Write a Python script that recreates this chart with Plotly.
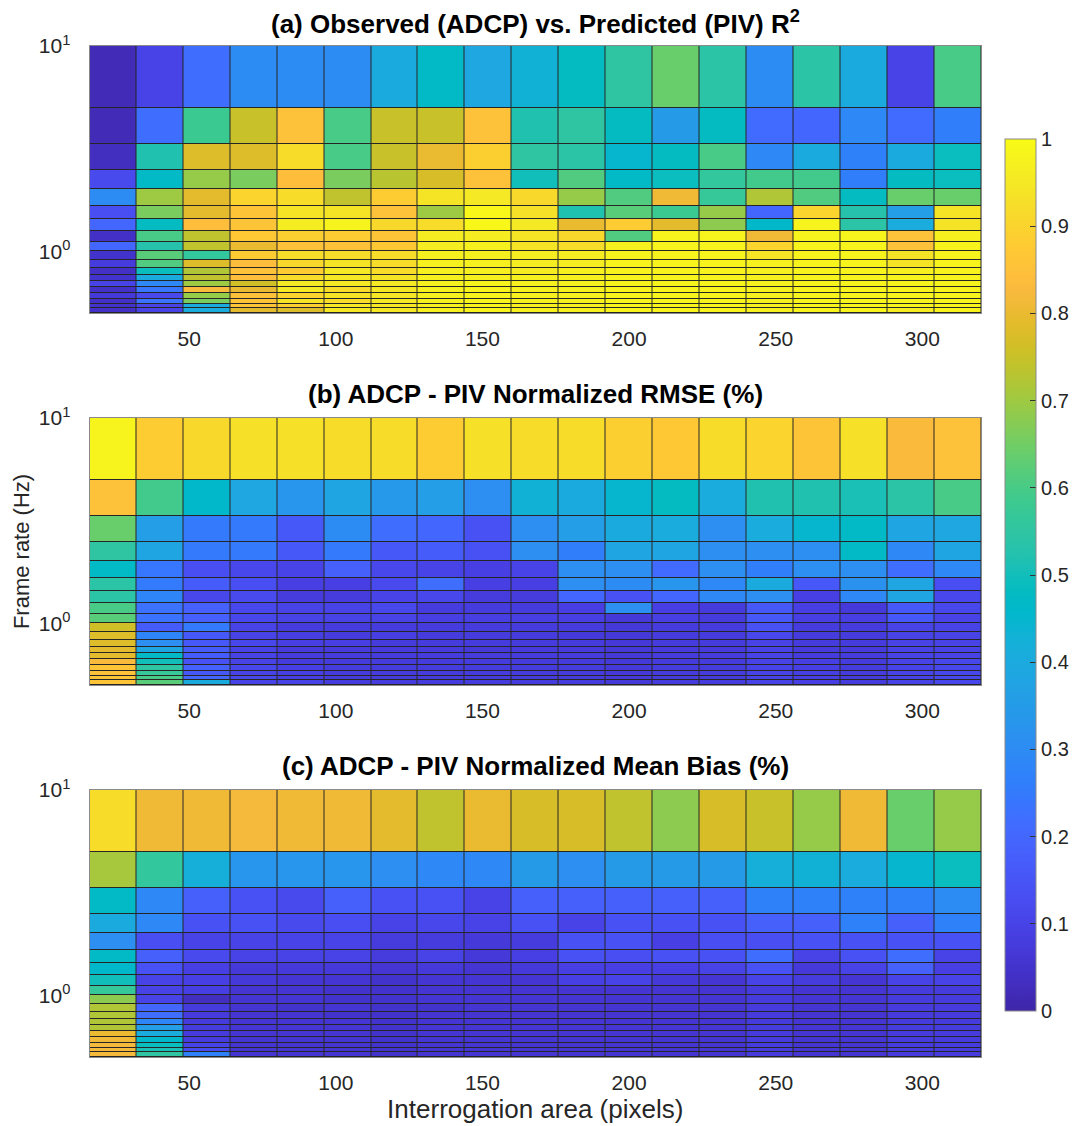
import plotly.graph_objects as go

# ---------------- data ----------------
# pcolor vertices: interrogation area (pixels) and frame rate (Hz)
interrogation_edges = [16, 32, 48, 64, 80, 96, 112, 128, 144, 160, 176, 192, 208, 224, 240, 256, 272, 288, 304, 320]
frame_rate_edges = [10.0, 5.0, 3.333, 2.5, 2.0, 1.667, 1.429, 1.25, 1.111, 1.0,
                    0.909, 0.833, 0.769, 0.714, 0.667, 0.625, 0.588, 0.556, 0.526, 0.5]

# rows listed from top (highest frame rate) to bottom
r2_values = [
    [0.02, 0.10, 0.22, 0.30, 0.30, 0.30, 0.40, 0.47, 0.39, 0.43, 0.48, 0.55, 0.64, 0.54, 0.30, 0.54, 0.40, 0.10, 0.60],
    [0.02, 0.22, 0.58, 0.75, 0.85, 0.60, 0.75, 0.75, 0.85, 0.52, 0.55, 0.48, 0.35, 0.48, 0.21, 0.20, 0.29, 0.21, 0.26],
    [0.03, 0.52, 0.78, 0.78, 0.92, 0.60, 0.75, 0.80, 0.89, 0.55, 0.54, 0.45, 0.48, 0.60, 0.29, 0.40, 0.27, 0.40, 0.49],
    [0.12, 0.47, 0.69, 0.66, 0.84, 0.66, 0.73, 0.77, 0.85, 0.50, 0.61, 0.47, 0.49, 0.56, 0.59, 0.59, 0.26, 0.48, 0.49],
    [0.30, 0.70, 0.79, 0.90, 0.92, 0.74, 0.88, 0.94, 0.95, 0.91, 0.69, 0.61, 0.81, 0.57, 0.72, 0.61, 0.48, 0.64, 0.64],
    [0.13, 0.66, 0.79, 0.86, 0.94, 0.94, 0.85, 0.70, 0.99, 0.93, 0.52, 0.62, 0.58, 0.69, 0.20, 0.90, 0.53, 0.36, 0.94],
    [0.20, 0.48, 0.84, 0.86, 0.96, 0.98, 0.91, 0.92, 0.99, 0.95, 0.80, 0.88, 0.79, 0.68, 0.46, 0.98, 0.54, 0.41, 0.94],
    [0.04, 0.60, 0.74, 0.87, 0.89, 0.88, 0.86, 0.96, 0.96, 0.94, 0.91, 0.61, 0.98, 0.98, 0.81, 0.98, 0.98, 0.85, 0.97],
    [0.20, 0.53, 0.74, 0.80, 0.85, 0.85, 0.87, 0.96, 0.97, 0.94, 0.92, 0.97, 0.98, 0.98, 0.90, 0.98, 0.98, 0.85, 0.98],
    [0.05, 0.62, 0.56, 0.88, 0.92, 0.92, 0.92, 0.97, 0.97, 0.96, 0.96, 0.98, 0.98, 0.98, 0.94, 0.98, 0.98, 0.94, 0.98],
    [0.08, 0.61, 0.78, 0.84, 0.91, 0.94, 0.92, 0.97, 0.97, 0.96, 0.96, 0.98, 0.98, 0.98, 0.97, 0.98, 0.98, 0.94, 0.98],
    [0.04, 0.49, 0.72, 0.85, 0.88, 0.95, 0.92, 0.97, 0.97, 0.96, 0.97, 0.98, 0.98, 0.98, 0.97, 0.98, 0.98, 0.97, 0.98],
    [0.05, 0.40, 0.74, 0.84, 0.92, 0.95, 0.94, 0.97, 0.97, 0.97, 0.97, 0.98, 0.98, 0.98, 0.97, 0.98, 0.98, 0.98, 0.98],
    [0.10, 0.29, 0.70, 0.76, 0.95, 0.95, 0.95, 0.97, 0.98, 0.97, 0.97, 0.98, 0.98, 0.98, 0.97, 0.98, 0.98, 0.98, 0.98],
    [0.04, 0.24, 0.83, 0.80, 0.95, 0.92, 0.95, 0.97, 0.98, 0.97, 0.97, 0.98, 0.98, 0.98, 0.97, 0.98, 0.98, 0.98, 0.98],
    [0.07, 0.12, 0.69, 0.85, 0.90, 0.94, 0.95, 0.97, 0.98, 0.97, 0.97, 0.98, 0.98, 0.98, 0.97, 0.98, 0.98, 0.98, 0.98],
    [0.04, 0.23, 0.66, 0.86, 0.94, 0.92, 0.95, 0.97, 0.98, 0.97, 0.97, 0.98, 0.98, 0.98, 0.97, 0.98, 0.98, 0.98, 0.98],
    [0.05, 0.10, 0.41, 0.86, 0.89, 0.95, 0.95, 0.97, 0.98, 0.97, 0.97, 0.98, 0.98, 0.98, 0.97, 0.98, 0.98, 0.98, 0.98],
    [0.04, 0.10, 0.41, 0.79, 0.78, 0.95, 0.95, 0.97, 0.98, 0.97, 0.97, 0.98, 0.98, 0.98, 0.97, 0.98, 0.98, 0.96, 0.98],
]

rmse_values = [
    [0.98, 0.88, 0.91, 0.93, 0.93, 0.92, 0.92, 0.88, 0.93, 0.92, 0.92, 0.89, 0.87, 0.92, 0.90, 0.86, 0.93, 0.83, 0.85],
    [0.85, 0.59, 0.46, 0.39, 0.33, 0.38, 0.34, 0.36, 0.31, 0.43, 0.40, 0.45, 0.48, 0.41, 0.52, 0.52, 0.51, 0.54, 0.60],
    [0.64, 0.36, 0.25, 0.25, 0.16, 0.30, 0.22, 0.20, 0.14, 0.31, 0.36, 0.40, 0.41, 0.31, 0.41, 0.45, 0.47, 0.38, 0.39],
    [0.55, 0.38, 0.25, 0.25, 0.16, 0.25, 0.16, 0.17, 0.14, 0.31, 0.26, 0.38, 0.38, 0.31, 0.31, 0.31, 0.47, 0.29, 0.38],
    [0.47, 0.24, 0.13, 0.11, 0.10, 0.18, 0.11, 0.10, 0.09, 0.10, 0.31, 0.31, 0.21, 0.31, 0.26, 0.31, 0.31, 0.22, 0.29],
    [0.54, 0.25, 0.17, 0.13, 0.09, 0.09, 0.12, 0.22, 0.09, 0.09, 0.31, 0.30, 0.33, 0.29, 0.40, 0.16, 0.32, 0.38, 0.13],
    [0.54, 0.28, 0.11, 0.12, 0.08, 0.08, 0.10, 0.11, 0.08, 0.08, 0.20, 0.14, 0.20, 0.29, 0.31, 0.09, 0.29, 0.38, 0.11],
    [0.60, 0.23, 0.18, 0.11, 0.10, 0.10, 0.11, 0.08, 0.08, 0.08, 0.09, 0.31, 0.09, 0.08, 0.16, 0.09, 0.07, 0.16, 0.11],
    [0.62, 0.23, 0.18, 0.11, 0.10, 0.10, 0.10, 0.09, 0.09, 0.09, 0.09, 0.07, 0.09, 0.08, 0.16, 0.09, 0.09, 0.16, 0.10],
    [0.76, 0.17, 0.25, 0.10, 0.08, 0.08, 0.08, 0.08, 0.08, 0.08, 0.08, 0.07, 0.08, 0.08, 0.14, 0.08, 0.08, 0.10, 0.10],
    [0.78, 0.28, 0.16, 0.10, 0.09, 0.08, 0.09, 0.08, 0.08, 0.08, 0.07, 0.07, 0.08, 0.08, 0.11, 0.08, 0.08, 0.10, 0.10],
    [0.78, 0.31, 0.16, 0.11, 0.09, 0.09, 0.08, 0.08, 0.08, 0.08, 0.08, 0.07, 0.08, 0.08, 0.10, 0.08, 0.08, 0.10, 0.10],
    [0.79, 0.38, 0.17, 0.10, 0.08, 0.08, 0.08, 0.08, 0.07, 0.08, 0.08, 0.07, 0.08, 0.08, 0.10, 0.08, 0.08, 0.10, 0.10],
    [0.79, 0.47, 0.17, 0.10, 0.08, 0.08, 0.08, 0.08, 0.08, 0.08, 0.08, 0.07, 0.08, 0.08, 0.10, 0.08, 0.08, 0.10, 0.10],
    [0.83, 0.50, 0.14, 0.10, 0.08, 0.08, 0.08, 0.08, 0.08, 0.08, 0.08, 0.07, 0.08, 0.08, 0.10, 0.09, 0.08, 0.10, 0.11],
    [0.86, 0.55, 0.18, 0.11, 0.09, 0.08, 0.08, 0.08, 0.08, 0.08, 0.08, 0.07, 0.08, 0.08, 0.10, 0.09, 0.08, 0.10, 0.11],
    [0.85, 0.57, 0.16, 0.10, 0.09, 0.08, 0.08, 0.08, 0.08, 0.08, 0.08, 0.07, 0.08, 0.08, 0.10, 0.09, 0.08, 0.10, 0.11],
    [0.86, 0.60, 0.20, 0.11, 0.09, 0.08, 0.08, 0.08, 0.08, 0.08, 0.08, 0.07, 0.08, 0.08, 0.10, 0.09, 0.08, 0.10, 0.11],
    [0.86, 0.62, 0.40, 0.10, 0.10, 0.08, 0.08, 0.08, 0.08, 0.08, 0.08, 0.07, 0.08, 0.08, 0.10, 0.09, 0.08, 0.10, 0.11],
]

bias_values = [
    [0.92, 0.81, 0.81, 0.82, 0.81, 0.81, 0.79, 0.74, 0.80, 0.77, 0.77, 0.74, 0.68, 0.77, 0.75, 0.69, 0.81, 0.64, 0.69],
    [0.71, 0.56, 0.42, 0.33, 0.33, 0.33, 0.31, 0.29, 0.29, 0.35, 0.31, 0.35, 0.35, 0.35, 0.42, 0.43, 0.41, 0.45, 0.49],
    [0.47, 0.29, 0.18, 0.14, 0.12, 0.18, 0.14, 0.14, 0.10, 0.18, 0.18, 0.18, 0.18, 0.18, 0.27, 0.27, 0.27, 0.27, 0.30],
    [0.40, 0.29, 0.14, 0.14, 0.12, 0.13, 0.10, 0.11, 0.10, 0.14, 0.10, 0.14, 0.14, 0.14, 0.18, 0.18, 0.27, 0.18, 0.27],
    [0.31, 0.13, 0.10, 0.10, 0.10, 0.10, 0.08, 0.08, 0.07, 0.08, 0.14, 0.14, 0.09, 0.13, 0.13, 0.14, 0.14, 0.14, 0.14],
    [0.47, 0.18, 0.12, 0.10, 0.10, 0.10, 0.08, 0.10, 0.07, 0.09, 0.14, 0.13, 0.14, 0.14, 0.22, 0.10, 0.14, 0.22, 0.10],
    [0.46, 0.14, 0.09, 0.07, 0.07, 0.07, 0.06, 0.07, 0.06, 0.07, 0.09, 0.09, 0.09, 0.10, 0.14, 0.07, 0.10, 0.18, 0.09],
    [0.50, 0.10, 0.09, 0.07, 0.06, 0.06, 0.05, 0.06, 0.06, 0.06, 0.09, 0.10, 0.07, 0.06, 0.10, 0.08, 0.06, 0.10, 0.10],
    [0.57, 0.10, 0.09, 0.06, 0.06, 0.05, 0.05, 0.06, 0.06, 0.06, 0.06, 0.06, 0.06, 0.06, 0.08, 0.06, 0.06, 0.08, 0.08],
    [0.68, 0.10, 0.03, 0.06, 0.06, 0.05, 0.05, 0.06, 0.06, 0.06, 0.06, 0.06, 0.06, 0.06, 0.08, 0.06, 0.06, 0.08, 0.08],
    [0.72, 0.20, 0.08, 0.06, 0.05, 0.06, 0.05, 0.05, 0.06, 0.06, 0.06, 0.06, 0.06, 0.06, 0.08, 0.06, 0.06, 0.08, 0.08],
    [0.72, 0.22, 0.08, 0.06, 0.06, 0.05, 0.05, 0.06, 0.06, 0.06, 0.06, 0.06, 0.06, 0.06, 0.08, 0.06, 0.06, 0.08, 0.08],
    [0.72, 0.28, 0.08, 0.06, 0.06, 0.06, 0.05, 0.06, 0.06, 0.06, 0.06, 0.06, 0.06, 0.06, 0.08, 0.06, 0.06, 0.08, 0.08],
    [0.72, 0.36, 0.08, 0.06, 0.06, 0.06, 0.05, 0.06, 0.06, 0.06, 0.06, 0.06, 0.06, 0.06, 0.08, 0.06, 0.06, 0.08, 0.08],
    [0.80, 0.41, 0.08, 0.06, 0.06, 0.06, 0.05, 0.06, 0.06, 0.06, 0.06, 0.06, 0.06, 0.06, 0.08, 0.06, 0.06, 0.08, 0.08],
    [0.81, 0.46, 0.08, 0.06, 0.06, 0.06, 0.05, 0.06, 0.06, 0.06, 0.06, 0.06, 0.06, 0.06, 0.08, 0.06, 0.06, 0.08, 0.08],
    [0.82, 0.49, 0.10, 0.06, 0.06, 0.06, 0.05, 0.06, 0.06, 0.06, 0.06, 0.06, 0.06, 0.06, 0.08, 0.06, 0.06, 0.08, 0.08],
    [0.82, 0.51, 0.12, 0.06, 0.06, 0.06, 0.05, 0.06, 0.06, 0.06, 0.06, 0.06, 0.06, 0.06, 0.08, 0.06, 0.06, 0.08, 0.08],
    [0.82, 0.55, 0.27, 0.06, 0.06, 0.06, 0.05, 0.06, 0.06, 0.06, 0.06, 0.06, 0.06, 0.06, 0.08, 0.06, 0.06, 0.08, 0.08],
]

panel_titles = [
    "<b>(a) Observed (ADCP) vs. Predicted (PIV) R<sup>2</sup></b>",
    "<b>(b) ADCP - PIV Normalized RMSE (%)</b>",
    "<b>(c) ADCP - PIV Normalized Mean Bias (%)</b>",
]
x_tick_values = [50, 100, 150, 200, 250, 300]
y_tick_values = [1, 10]
y_tick_labels = ["10<sup>0</sup>", "10<sup>1</sup>"]
cbar_ticks = [0, 0.1, 0.2, 0.3, 0.4, 0.5, 0.6, 0.7, 0.8, 0.9, 1]

# MATLAB parula(64)
parula = [
    (0.2422, 0.1504, 0.6603), (0.2504, 0.1650, 0.7076), (0.2578, 0.1818, 0.7511), (0.2647, 0.1978, 0.7952),
    (0.2706, 0.2147, 0.8364), (0.2751, 0.2342, 0.8710), (0.2783, 0.2559, 0.8991), (0.2803, 0.2782, 0.9221),
    (0.2813, 0.3006, 0.9414), (0.2810, 0.3228, 0.9579), (0.2795, 0.3447, 0.9717), (0.2760, 0.3667, 0.9829),
    (0.2699, 0.3892, 0.9906), (0.2602, 0.4123, 0.9952), (0.2440, 0.4358, 0.9988), (0.2206, 0.4603, 0.9973),
    (0.1963, 0.4847, 0.9892), (0.1834, 0.5074, 0.9798), (0.1786, 0.5289, 0.9682), (0.1764, 0.5499, 0.9520),
    (0.1687, 0.5703, 0.9359), (0.1540, 0.5902, 0.9218), (0.1460, 0.6091, 0.9079), (0.1380, 0.6276, 0.8973),
    (0.1248, 0.6459, 0.8883), (0.1113, 0.6635, 0.8763), (0.0952, 0.6798, 0.8598), (0.0689, 0.6948, 0.8394),
    (0.0297, 0.7082, 0.8163), (0.0036, 0.7203, 0.7917), (0.0067, 0.7312, 0.7660), (0.0433, 0.7411, 0.7394),
    (0.0964, 0.7500, 0.7120), (0.1408, 0.7584, 0.6842), (0.1717, 0.7670, 0.6554), (0.1938, 0.7758, 0.6251),
    (0.2161, 0.7843, 0.5923), (0.2470, 0.7918, 0.5567), (0.2906, 0.7973, 0.5188), (0.3406, 0.8008, 0.4789),
    (0.3909, 0.8029, 0.4354), (0.4456, 0.8024, 0.3909), (0.5044, 0.7993, 0.3480), (0.5616, 0.7942, 0.3045),
    (0.6174, 0.7876, 0.2612), (0.6720, 0.7793, 0.2227), (0.7242, 0.7698, 0.1910), (0.7738, 0.7598, 0.1646),
    (0.8203, 0.7498, 0.1535), (0.8634, 0.7406, 0.1596), (0.9035, 0.7330, 0.1774), (0.9393, 0.7288, 0.2100),
    (0.9728, 0.7298, 0.2394), (0.9956, 0.7434, 0.2371), (0.9970, 0.7659, 0.2199), (0.9952, 0.7893, 0.2028),
    (0.9892, 0.8136, 0.1885), (0.9786, 0.8386, 0.1766), (0.9676, 0.8639, 0.1643), (0.9610, 0.8890, 0.1537),
    (0.9597, 0.9135, 0.1423), (0.9628, 0.9373, 0.1265), (0.9691, 0.9606, 0.1064), (0.9769, 0.9839, 0.0805),
]
colorscale = [[i / (len(parula) - 1), "rgb(%d,%d,%d)" % tuple(round(c * 255) for c in rgb)]
              for i, rgb in enumerate(parula)]

# ---------------- figure ----------------
W, H = 1080, 1126
FONT = "Liberation Sans, Arial, Helvetica, sans-serif"
TXT = "#262626"

# pixel boxes of the three axes (top, bottom)
panel_px = [(46, 313), (418, 685), (790, 1057)]
x_px = (89.5, 981)

fig = go.Figure()
datasets = [r2_values, rmse_values, bias_values]
y_edges_asc = list(reversed(frame_rate_edges))
for k, data in enumerate(datasets):
    ax = "" if k == 0 else str(k + 1)
    fig.add_trace(go.Heatmap(
        x=interrogation_edges,
        y=y_edges_asc,
        z=list(reversed(data)),
        coloraxis="coloraxis",
        xgap=1, ygap=1,
        xaxis="x" + ax, yaxis="y" + ax,
        hoverinfo="skip",
    ))

layout = dict(
    width=W, height=H, autosize=False,
    margin=dict(l=0, r=0, t=0, b=0, autoexpand=False),
    paper_bgcolor="white",
    plot_bgcolor="#262626",
    font=dict(family=FONT, size=21, color=TXT),
    showlegend=False,
    coloraxis=dict(
        colorscale=colorscale, cmin=0, cmax=1,
        colorbar=dict(
            x=1005 / W, xanchor="left", xpad=0,
            y=1 - 575 / H, yanchor="middle", ypad=0,
            len=872 / H, lenmode="fraction",
            thickness=31, thicknessmode="pixels",
            outlinewidth=1, outlinecolor="#8a8a8a",
            ticks="inside", ticklen=6, tickcolor="#333333",
            tickvals=cbar_ticks,
            tickfont=dict(size=20, color=TXT, family=FONT),
        ),
    ),
    annotations=[],
)

for k in range(3):
    ax = "" if k == 0 else str(k + 1)
    top, bot = panel_px[k]
    layout["xaxis" + ax] = dict(
        domain=[x_px[0] / W, x_px[1] / W],
        anchor="y" + ax,
        range=[16, 320],
        tickvals=x_tick_values,
        ticks="", showgrid=False, zeroline=False,
        showline=True, mirror=True, linecolor="#8a8a8a", linewidth=1,
        tickfont=dict(size=21, color=TXT),
        ticklabelstandoff=7,
    )
    layout["yaxis" + ax] = dict(
        domain=[1 - bot / H, 1 - top / H],
        anchor="x" + ax,
        type="log",
        range=[-0.30103, 1],
        tickvals=y_tick_values, ticktext=y_tick_labels,
        ticks="", showgrid=False, zeroline=False,
        showline=True, mirror=True, linecolor="#8a8a8a", linewidth=1,
        tickfont=dict(size=21, color=TXT),
        ticklabelstandoff=14,
    )
    layout["annotations"].append(dict(
        text=panel_titles[k], xref="paper", yref="paper",
        x=(x_px[0] + x_px[1]) / 2 / W, y=1 - (top - 24) / H,
        xanchor="center", yanchor="middle", showarrow=False,
        font=dict(size=26, color="#000000", family=FONT),
    ))

layout["yaxis2"]["title"] = dict(text="Frame rate (Hz)", font=dict(size=22, color=TXT), standoff=3)
layout["xaxis3"]["title"] = dict(text="Interrogation area (pixels)", font=dict(size=26, color=TXT), standoff=3)

fig.update_layout(**layout)
fig.write_html("out.html")
